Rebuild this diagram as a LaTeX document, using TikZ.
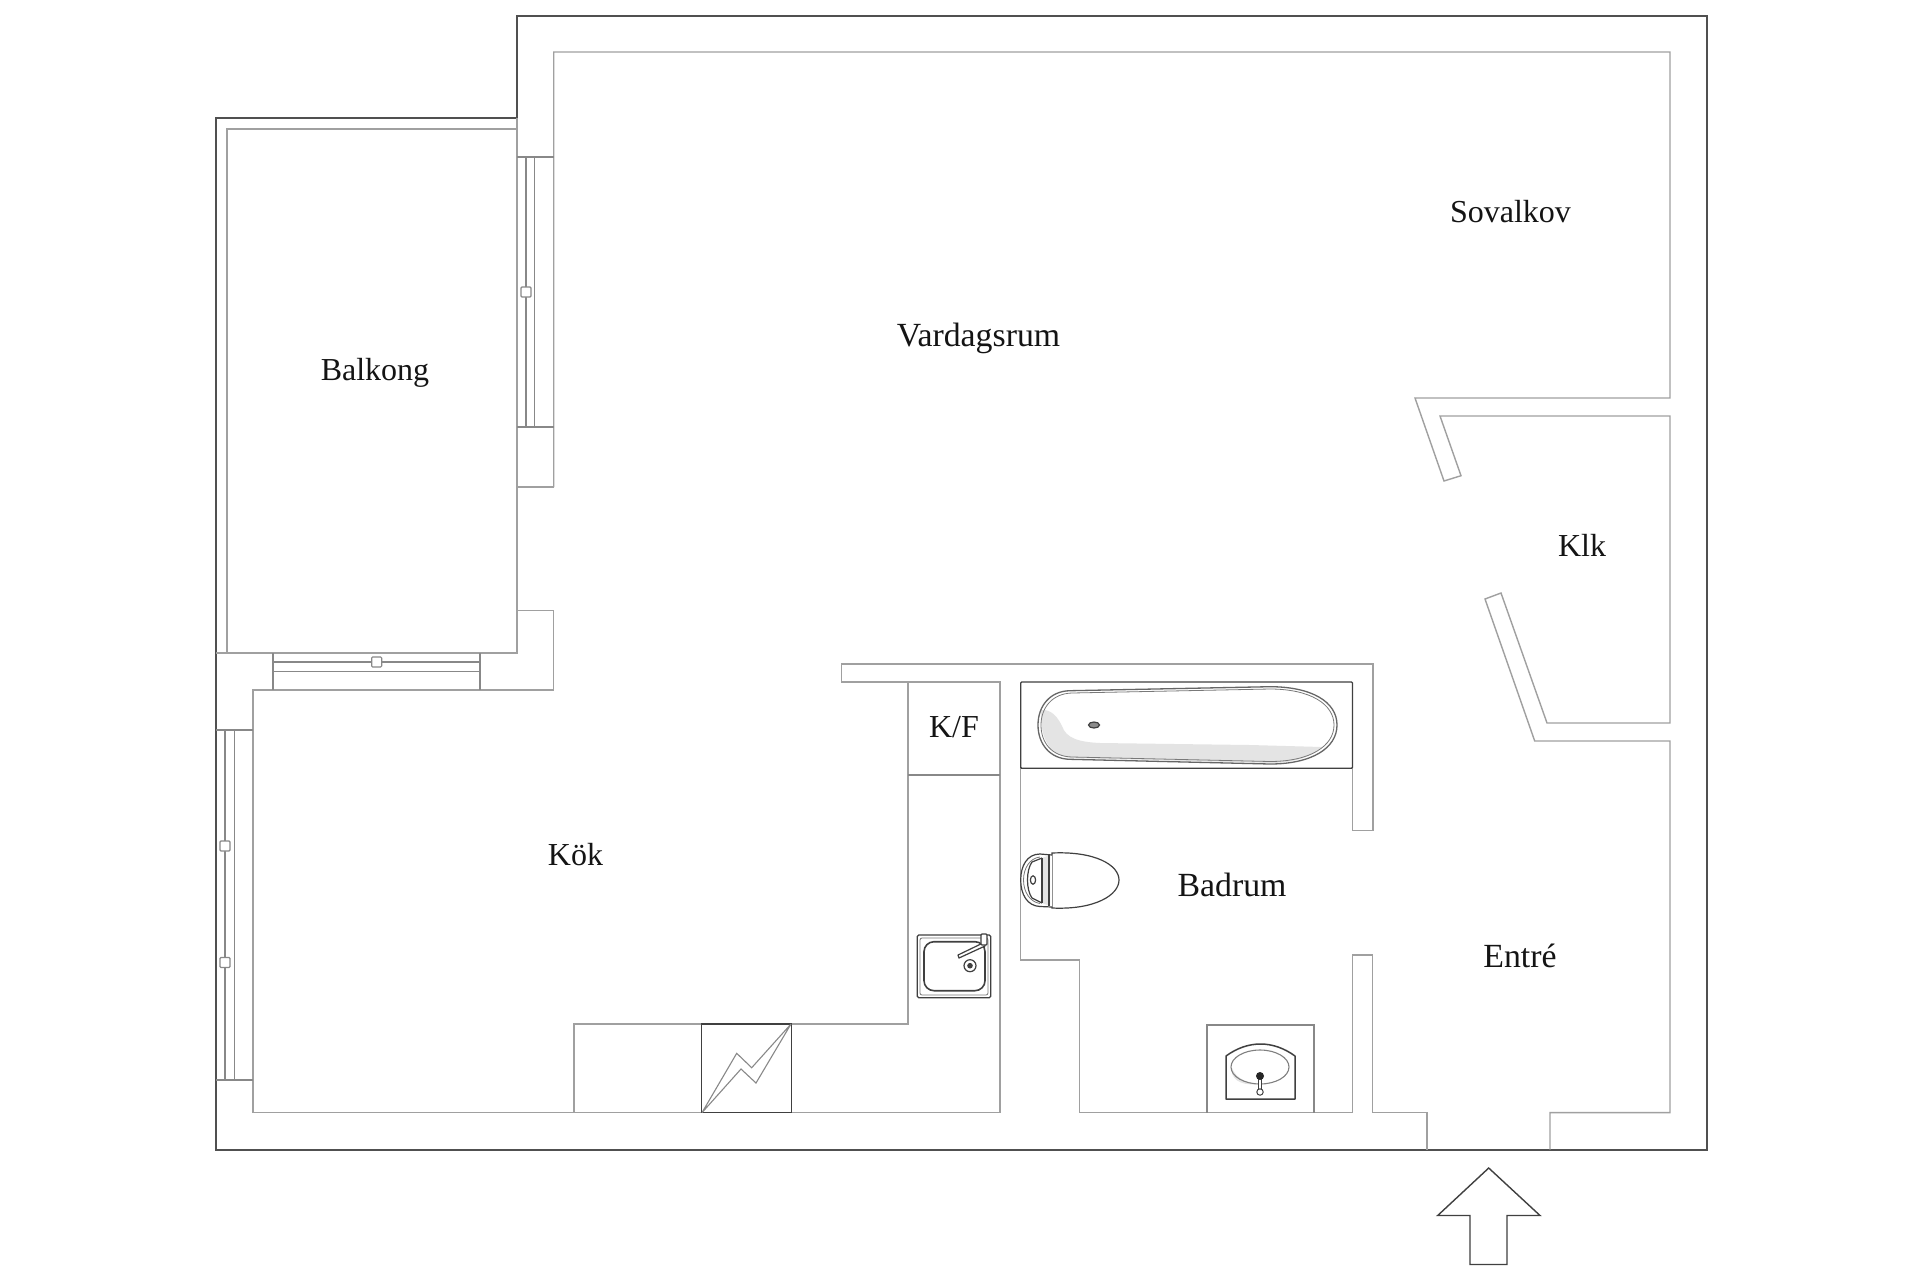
\documentclass[tikz,border=0pt]{standalone}
\usepackage{fontspec}
\setmainfont{Liberation Serif}
\definecolor{wallgray}{HTML}{A0A0A0}
\definecolor{outerwall}{HTML}{505050}
\definecolor{fixture}{HTML}{404040}
\definecolor{basinshade}{HTML}{E4E4E4}
\tikzset{
  wall/.style={draw=wallgray,line width=1.4pt,line join=miter},
  thinwall/.style={draw=wallgray!85!black,line width=1.1pt},
  outer/.style={draw=outerwall,line width=1.9pt,line join=miter},
  fix/.style={draw=fixture,line width=1.2pt},
  fixthin/.style={draw=fixture!70,line width=0.8pt},
  room/.style={font=\fontsize{32}{32}\selectfont,text=black!92,inner sep=0pt,anchor=center},
  roomwide/.style={room,font=\fontsize{33.8}{34}\selectfont},
  knob/.style={draw=wallgray!85!black,line width=1.1pt,fill=white,rounded corners=1pt,minimum size=10pt,inner sep=0pt}
}
\begin{document}
\begin{tikzpicture}[x=1pt,y=-1pt]
\useasboundingbox[fill=white] (0,0) rectangle (1920,1280);
% outer envelope
\draw[outer] (517,118) -- (517,16) -- (1707,16) -- (1707,1149.6) -- (216,1149.6) -- (216,118) -- cycle;
% balcony inner
\draw[wall] (517,129) -- (227,129) -- (227,653);
\draw[wall] (216,653) -- (517,653) -- (517,118);
% living room + closet + hall inner contour
\draw[wall] (517,610.7) -- (553.7,610.7) -- (553.7,690) -- (253,690) -- (253,1112.6) -- (1000,1112.6) -- (1000,682) -- (841.4,682) -- (841.4,664) -- (1373,664) -- (1373,830.7) -- (1352.7,830.7) -- (1352.7,768.3);
\draw[wall] (553.7,487) -- (553.7,52) -- (1670,52) -- (1670,398) -- (1415,398) -- (1444,481) -- (1461,475.7) -- (1440,416) -- (1670,416) -- (1670,723) -- (1547,723) -- (1501,593) -- (1485,599) -- (1534.7,741) -- (1670,741) -- (1670,1112.6) -- (1550,1112.6) -- (1550,1149.6);
\draw[wall] (517,487) -- (553.7,487);
% east window
\draw[thinwall] (517,157) -- (553.7,157);
\draw[thinwall] (517,427) -- (553.7,427);
\draw[thinwall] (526,157) -- (526,427);
\draw[thinwall] (534.7,157) -- (534.7,427);
\node[knob] (knobA) at (526,292) {};
% south balcony window
\draw[thinwall] (273,653) -- (273,690);
\draw[thinwall] (480,653) -- (480,690);
\draw[thinwall] (273,662) -- (480,662);
\draw[thinwall] (273,671.5) -- (480,671.5);
\node[knob] (knobB) at (376.7,662) {};
% kitchen west window
\draw[thinwall] (216,730) -- (253,730);
\draw[thinwall] (216,1080) -- (253,1080);
\draw[thinwall] (225,730) -- (225,1080);
\draw[thinwall] (234.7,730) -- (234.7,1080);
\node[knob] (knobC) at (225,846) {};
\node[knob] (knobD) at (225,962.5) {};
% kitchen fittings
\draw[wall] (574,1112.6) -- (574,1024) -- (908,1024) -- (908,682);
\draw[thinwall] (908,775) -- (1000,775);
\draw[draw=fixture,line width=1.5pt] (701.7,1024) rectangle (791.3,1112.6);
\draw[thinwall] (702,1112.6) -- (736.7,1053.3) -- (751.7,1067.7) -- (791,1024) -- (756,1083) -- (741,1069) -- cycle;
% kitchen sink
\draw[fix,rounded corners=1.5pt] (917.3,935) rectangle (990.7,997.7);
\draw[fixthin,rounded corners=2pt] (920,938) rectangle (988,995);
\draw[draw=fixture,line width=1.6pt,rounded corners=10pt] (924,941.7) rectangle (985,990.7);
\draw[fix] (970,965.7) circle (6);
\fill[fixture] (970,965.7) circle (2.8);
\draw[fix,fill=white,line cap=round,line join=round] (959,958) -- (985,946) -- (985,942) -- (958,955) -- cycle;
\draw[fix,fill=white,rounded corners=1pt] (981,934) rectangle (987,945);
% bathroom
\draw[wall] (1020.7,768.3) -- (1020.7,960) -- (1079.5,960) -- (1079.5,1112.6) -- (1352.7,1112.6) -- (1352.7,955) -- (1372.7,955) -- (1372.7,1112.6) -- (1427,1112.6) -- (1427,1149.6);
% bathtub
\draw[draw=fixture,line width=1.3pt,rounded corners=1pt] (1020.7,682) rectangle (1352.5,768.3);
\fill[basinshade] (1041,710) .. controls (1052,709) and (1058,718) .. (1062,726) .. controls (1066,738) and (1078,742) .. (1100,743) -- (1250,745) -- (1322,747) .. controls (1312,758) and (1290,763) .. (1270,763) -- (1072,758) .. controls (1050,756) and (1040,740) .. (1041,710) -- cycle;
\draw[draw=fixture!80,line width=1.3pt] (1070,690.7) -- (1270,686.7) .. controls (1312,686.7) and (1337,702) .. (1337,725) .. controls (1337,748) and (1312,764) .. (1270,764) -- (1070,759.3) .. controls (1050,759) and (1038,744) .. (1038,725) .. controls (1038,706) and (1050,691) .. (1070,690.7) -- cycle;
\draw[fixthin] (1072,693) -- (1270,689) .. controls (1310,689) and (1334,704) .. (1334,725) .. controls (1334,746) and (1310,761.5) .. (1270,761.5) -- (1072,757) .. controls (1052,756.5) and (1041,743) .. (1041,725) .. controls (1041,708) and (1052,693.5) .. (1072,693) -- cycle;
\draw[fix,fill=fixture!60] (1094,725) ellipse (5.5 and 3);
% toilet
\draw[fix,fill=white] (1052,853) .. controls (1095,851) and (1119,865) .. (1119,880) .. controls (1119,895) and (1095,910) .. (1052,908) -- cycle;
\draw[fix,fill=white] (1052,855) -- (1040,854) .. controls (1027,854) and (1020.7,866) .. (1020.7,880) .. controls (1020.7,894) and (1027,906) .. (1040,906.5) -- (1052,907);
\fill[basinshade] (1042,858) -- (1050,855) -- (1050,906) -- (1042,903) -- cycle;
\draw[fix] (1042,858) -- (1042,903);
\draw[fix] (1049,855) -- (1049,906);
\draw[fixthin] (1040,857) .. controls (1030,858) and (1023.5,868) .. (1023.5,880) .. controls (1023.5,892) and (1030,902) .. (1040,903.5);
\draw[fix] (1042,858) -- (1032,862) .. controls (1026,870) and (1026,890) .. (1032,898) -- (1042,903);
\draw[fix] (1033,880) ellipse (2.6 and 4.2);
% washbasin
\draw[thinwall] (1207,1112.6) -- (1207,1025) -- (1314,1025) -- (1314,1112.6);
\draw[draw=fixture,line width=1.5pt,line join=round] (1226,1056) .. controls (1248,1040) and (1273,1040) .. (1295,1056) -- (1295,1099) -- (1226,1099) -- cycle;
\fill[basinshade] (1232,1068) .. controls (1236,1078) and (1245,1082) .. (1256,1084) .. controls (1240,1086) and (1230,1078) .. (1232,1068) -- cycle;
\draw[draw=wallgray!80!black,line width=1.1pt] (1260,1067) ellipse (29 and 17);
\draw[draw=fixture,line width=1pt,fill=white] (1258.3,1078) rectangle (1261.7,1090);
\fill[black!85] (1260,1076) circle (4);
\draw[draw=fixture,line width=1pt,fill=white] (1260,1092) circle (3.2);
% entrance arrow
\draw[draw=fixture,line width=1.4pt,line join=miter] (1488.7,1168) -- (1540,1215.5) -- (1507,1215.5) -- (1507,1264.5) -- (1470,1264.5) -- (1470,1215.5) -- (1437.7,1215.5) -- cycle;
% room labels
\node[room] (sovalkov) at (1510.5,212) {Sovalkov};
\node[roomwide] (vardagsrum) at (978.5,338) {Vardagsrum};
\node[room] (balkong) at (375,372.5) {Balkong};
\node[room] (klk) at (1582,545) {Klk};
\node[room] (kf) at (954,727) {K/F};
\node[room] (kok) at (575.5,855) {Kök};
\node[roomwide] (badrum) at (1232,885) {Badrum};
\node[roomwide] (entre) at (1520,956) {Entré};
\end{tikzpicture}
\end{document}
